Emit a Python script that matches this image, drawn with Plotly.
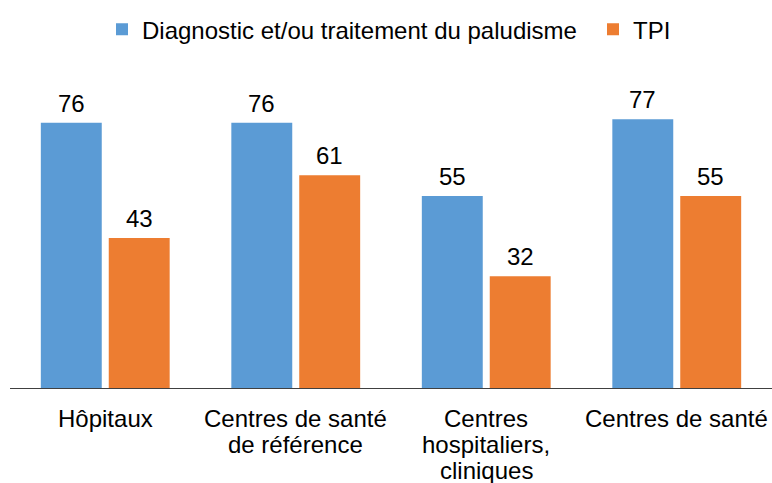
import plotly.graph_objects as go

categories = ["Hôpitaux", "Centres de santé<br>de référence",
              "Centres<br>hospitaliers,<br>cliniques", "Centres de santé"]
diagnostic = [76, 76, 55, 77]
tpi = [43, 61, 32, 55]

series_names = ["Diagnostic et/ou traitement du paludisme", "TPI"]
colors = ["#5B9BD5", "#ED7D31"]
legend_ids = ["legend", "legend2"]
font_family = "Liberation Sans, Arial, sans-serif"

# bar layout: category width ~190.5 px, two bars of 61 px with a 7 px gap
BARGAP = 0.287
BARGROUPGAP = 0.103
SLOT_PX = 68.0  # half of the group width in pixels

fig = go.Figure()
for name, vals, col, lg in zip(series_names, [diagnostic, tpi], colors, legend_ids):
    fig.add_trace(go.Bar(
        x=categories, y=vals, name=name, legend=lg,
        marker=dict(color=col, line=dict(width=0)),
    ))

# value labels above each bar
for i, vals in enumerate([diagnostic, tpi]):
    shift = (i - 0.5) * SLOT_PX
    for cat, v in zip(categories, vals):
        fig.add_annotation(
            x=cat, y=v, text=str(v), showarrow=False,
            xanchor="center", yanchor="bottom", xshift=shift, yshift=4,
            font=dict(size=24, color="#000000", family=font_family),
        )

# category labels, one line at a time for a tighter line height
for cat in categories:
    for k, line in enumerate(cat.split("<br>")):
        fig.add_annotation(
            x=cat, y=0, yref="paper", text=line, showarrow=False,
            xanchor="center", yanchor="middle", yshift=-30 - 26 * k,
            font=dict(size=24, color="#000000", family=font_family),
        )

legend_style = dict(orientation="h", xanchor="left", xref="container",
                    y=0.985, yanchor="top", yref="container",
                    font=dict(size=24, family=font_family))

fig.update_layout(
    width=772, height=483,
    margin=dict(l=10, r=0, t=74, b=95),
    paper_bgcolor="white", plot_bgcolor="white",
    font=dict(family=font_family, size=24, color="#000000"),
    barmode="group", bargap=BARGAP, bargroupgap=BARGROUPGAP,
    showlegend=True,
    legend=dict(x=102 / 772, **legend_style),
    legend2=dict(x=593 / 772, **legend_style),
    xaxis=dict(showline=True, linecolor="#404040", linewidth=1, showgrid=False,
               ticks="", showticklabels=False, automargin=False),
    yaxis=dict(range=[0, 90], visible=False, showgrid=False, zeroline=False,
               automargin=False),
)

fig.write_html("out.html")
